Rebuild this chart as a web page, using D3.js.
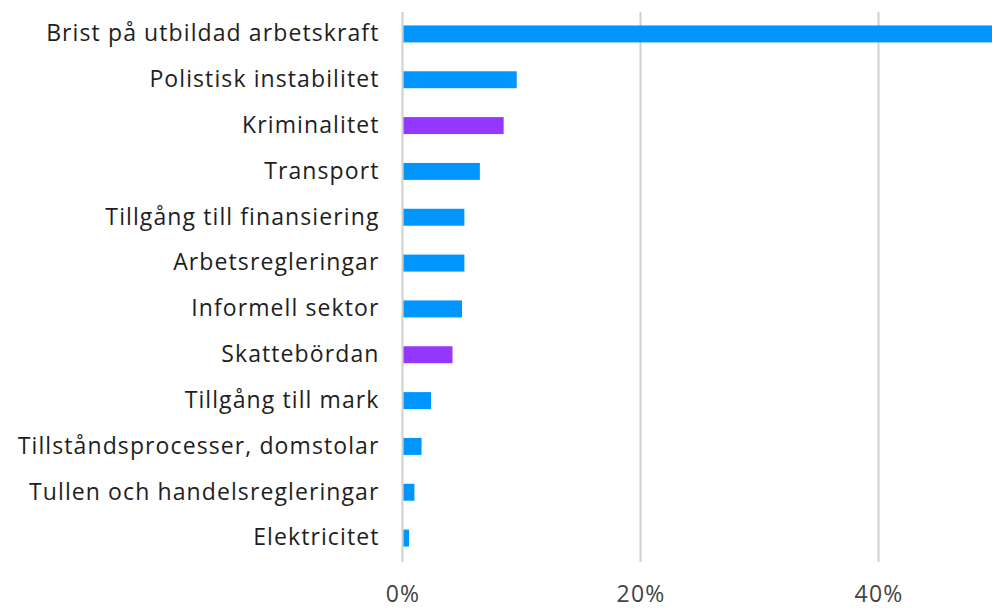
<!DOCTYPE html>
<html>
<head>
<meta charset="utf-8">
<script src="https://cdn.jsdelivr.net/npm/d3@7"></script>
<style>
  body { margin: 0; background: #fff; }
  svg { display: block; }
</style>
</head>
<body>
<script>
// categories top to bottom
var categories = [
  "Brist på utbildad arbetskraft",
  "Polistisk instabilitet",
  "Kriminalitet",
  "Transport",
  "Tillgång till finansiering",
  "Arbetsregleringar",
  "Informell sektor",
  "Skattebördan",
  "Tillgång till mark",
  "Tillståndsprocesser, domstolar",
  "Tullen och handelsregleringar",
  "Elektricitet"
];
var values = [0.52, 0.096, 0.085, 0.065, 0.052, 0.052, 0.050, 0.042, 0.024, 0.016, 0.010, 0.0055];
var highlighted = ["Kriminalitet", "Skattebördan"];
var tickValues = [0, 0.2, 0.4];

var width = 992, height = 608;
var margin = {top: 11, right: 0, bottom: 47, left: 402.5};

var svg = d3.select('body').append('svg')
  .attr('width', width)
  .attr('height', height);

var x = d3.scaleLinear()
  .domain([0, 0.2])
  .range([margin.left, 640.5]);

var y = d3.scaleBand()
  .domain(categories)
  .range([margin.top, height - margin.bottom])
  .paddingInner(0.63)
  .paddingOuter(0.315);

// grid lines
svg.append('g')
  .selectAll('line')
  .data(tickValues)
  .enter().append('line')
    .attr('x1', function(d){ return x(d) })
    .attr('x2', function(d){ return x(d) })
    .attr('y1', margin.top + 1)
    .attr('y2', height - margin.bottom + 1)
    .attr('stroke', '#cfcfcf')
    .attr('stroke-width', 2);

// bars
svg.append('g')
  .selectAll('rect')
  .data(categories)
  .enter().append('rect')
    .attr('x', x(0) + 1)
    .attr('y', function(d){ return y(d) })
    .attr('width', function(d, i){ return x(values[i]) - x(0) - 1 })
    .attr('height', y.bandwidth())
    .attr('fill', function(d){ return highlighted.indexOf(d) >= 0 ? '#9437ff' : '#0096ff' });

// category labels
var yAxis = svg.append('g')
  .attr('transform', 'translate(' + 379.5 + ',0)')
  .call(d3.axisLeft(y).tickSize(0).tickPadding(0));
yAxis.select('.domain').remove();
yAxis.selectAll('text')
  .attr('font-family', '"Open Sans", sans-serif')
  .attr('font-size', 23)
  .attr('letter-spacing', 1.1)
  .attr('fill', '#1e1e1e');

// percent labels
var xAxis = svg.append('g')
  .attr('transform', 'translate(0,' + 586 + ')')
  .call(d3.axisBottom(x).tickValues(tickValues).tickFormat(d3.format('.0%')).tickSize(0).tickPadding(0));
xAxis.select('.domain').remove();
xAxis.selectAll('text')
  .attr('font-family', '"Open Sans", sans-serif')
  .attr('font-size', 23)
  .attr('letter-spacing', 1.2)
  .attr('fill', '#444');
</script>
</body>
</html>
